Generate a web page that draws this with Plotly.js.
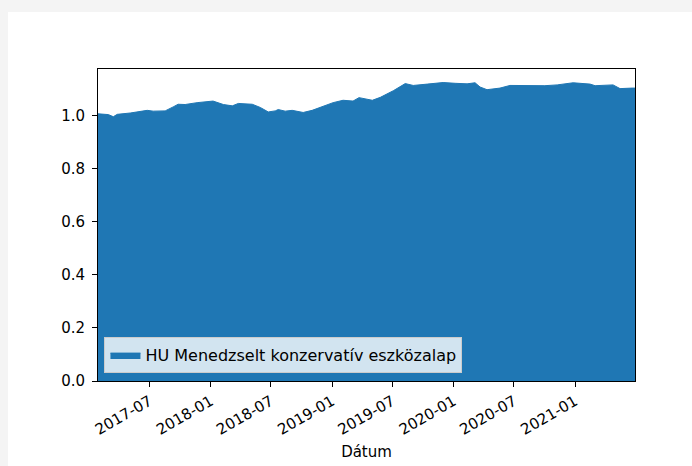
<!DOCTYPE html>
<html>
<head>
<meta charset="utf-8">
<script src="https://cdn.plot.ly/plotly-3.0.1.min.js"></script>
<style>
  html, body { margin: 0; padding: 0; background: #f4f4f4; width: 692px; height: 466px; overflow: hidden; }
  #card { position: absolute; left: 8px; top: 12px; width: 684px; height: 454px; background: #ffffff; }
  #chart { position: absolute; left: 0; top: 0; width: 684px; height: 454px; }
</style>
</head>
<body>
<div id="card"><div id="chart"></div></div>
<script>
const seriesName = "HU Menedzselt konzervatív eszközalap";
const dates = [
  "2017-01-27","2017-02-27","2017-03-14","2017-03-26","2017-05-04","2017-06-24",
  "2017-07-12","2017-08-17","2017-09-10","2017-09-25","2017-10-16","2017-11-21",
  "2018-01-08","2018-02-08","2018-03-07","2018-03-25","2018-05-06","2018-05-30",
  "2018-06-23","2018-07-14","2018-07-23","2018-08-13","2018-09-03","2018-10-06",
  "2018-11-02","2018-12-02","2019-01-04","2019-02-03","2019-03-05","2019-03-23",
  "2019-04-10","2019-05-02","2019-05-26","2019-07-04","2019-08-09","2019-09-02",
  "2019-10-14","2019-12-01","2020-01-06","2020-02-11","2020-03-06","2020-03-21",
  "2020-04-11","2020-05-20","2020-06-19","2020-10-02","2020-11-08","2020-12-26",
  "2021-02-15","2021-03-02","2021-04-25","2021-05-16","2021-06-21","2021-06-30"
];
const values = [
  1.008,1.005,0.997,1.006,1.011,1.021,
  1.018,1.019,1.034,1.044,1.043,1.050,
  1.056,1.043,1.038,1.047,1.044,1.032,
  1.015,1.019,1.024,1.018,1.021,1.013,
  1.021,1.036,1.050,1.059,1.056,1.069,
  1.065,1.059,1.070,1.095,1.122,1.115,
  1.120,1.126,1.123,1.121,1.125,1.109,
  1.099,1.105,1.115,1.114,1.117,1.125,
  1.120,1.114,1.117,1.103,1.105,1.105
];
const xTickVals = ["2017-07-01","2018-01-01","2018-07-01","2019-01-01","2019-07-01","2020-01-01","2020-07-01","2021-01-01"];
const xTickText = ["2017-07","2018-01","2018-07","2019-01","2019-07","2020-01","2020-07","2021-01"];
const yTickVals = [0, 0.2, 0.4, 0.6, 0.8, 1.0];
const xRange = ["2017-01-27", "2021-06-30"];
const yRange = [0, 1.177];

const trace = {
  x: dates, y: values, name: seriesName,
  type: "scatter", mode: "lines", fill: "tozeroy",
  line: { color: "#1f77b4", width: 1 },
  fillcolor: "#1f77b4"
};

const font = { family: "DejaVu Sans, sans-serif", size: 15, color: "#000000" };

const layout = {
  width: 684, height: 454,
  margin: { l: 89.5, r: 57, t: 57, b: 84.5, pad: 0 },
  paper_bgcolor: "#ffffff", plot_bgcolor: "#ffffff",
  font: font,
  showlegend: true,
  legend: {
    x: 0.012, y: 0.025, xanchor: "left", yanchor: "bottom",
    bgcolor: "rgba(255,255,255,0.8)", bordercolor: "#cccccc", borderwidth: 1,
    font: { family: "DejaVu Sans, sans-serif", size: 16, color: "#000000" }
  },
  xaxis: {
    type: "date", range: xRange,
    tickmode: "array", tickvals: xTickVals, ticktext: xTickText,
    tickangle: -30, ticks: "outside", ticklen: 5, tickwidth: 1, tickcolor: "#000",
    ticklabelstandoff: 0,
    showline: true, linecolor: "#000", linewidth: 1, mirror: true,
    showgrid: false, zeroline: false,
    title: { text: "Dátum", font: font, standoff: 8 },
    tickfont: font
  },
  yaxis: {
    range: yRange,
    tickmode: "array", tickvals: yTickVals, tickformat: ".1f",
    ticks: "outside", ticklen: 5, tickwidth: 1, tickcolor: "#000",
    ticklabelstandoff: 4,
    showline: true, linecolor: "#000", linewidth: 1, mirror: true,
    showgrid: false, zeroline: false,
    tickfont: font
  }
};

Plotly.newPlot("chart", [trace], layout, { staticPlot: true, displayModeBar: false });
</script>
</body>
</html>
